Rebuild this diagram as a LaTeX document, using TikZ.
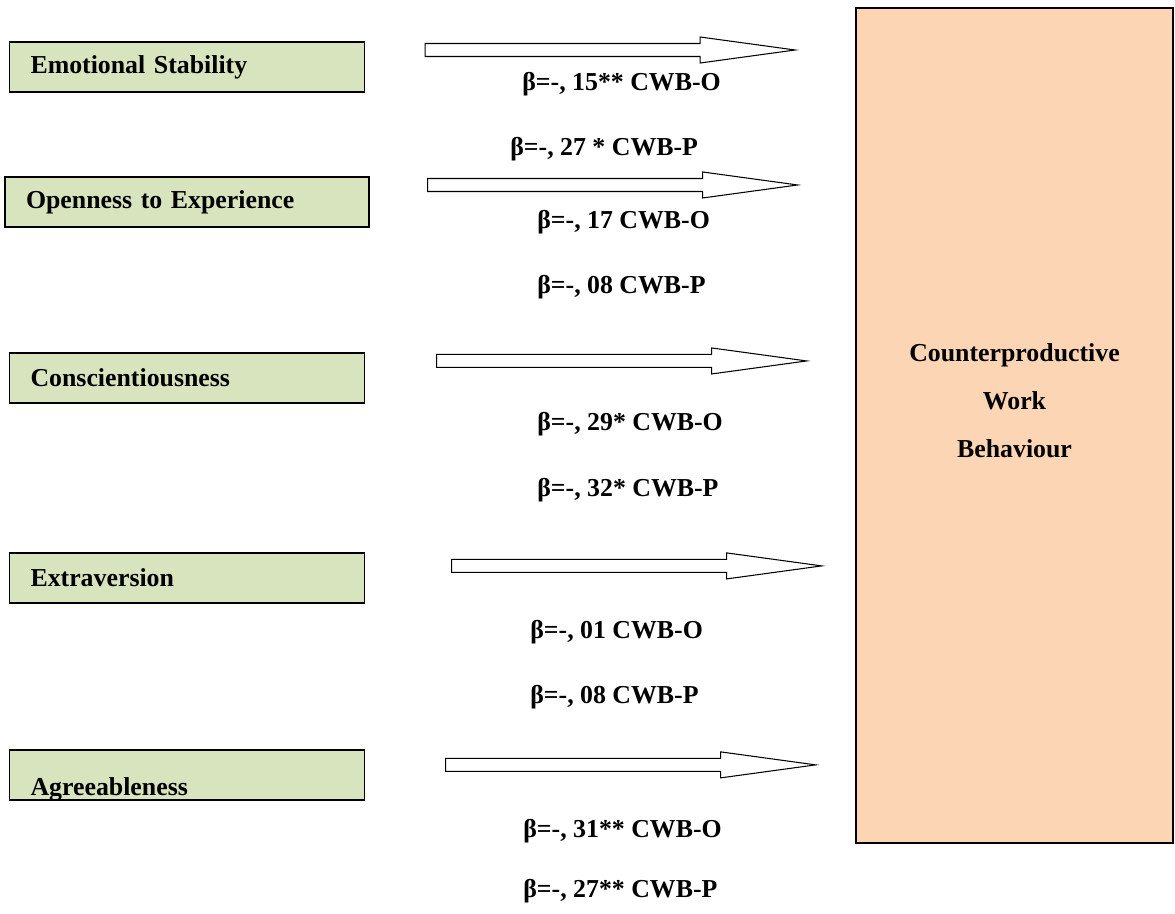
\documentclass[tikz,border=0pt]{standalone}
\usepackage{fontspec}
\setmainfont{Liberation Serif}
\usetikzlibrary{positioning}
\definecolor{traitgreen}{HTML}{D7E4BD}
\definecolor{cwbpeach}{HTML}{FCD5B4}

\begin{document}
\begin{tikzpicture}[x=0.02cm, y=-0.02cm,
    trait/.style = {rectangle, draw=black, line width=0.8pt, fill=traitgreen,
                    minimum height=1cm, text width=6.26cm, inner xsep=0.42cm,
                    inner ysep=0pt, align=left,
                    font=\fontsize{14.7}{17}\selectfont\bfseries},
    outcome/.style = {rectangle, draw=black, line width=1pt, fill=cwbpeach,
                      minimum width=6.34cm, minimum height=16.7cm},
    coef/.style = {anchor=west, inner sep=0pt,
                   font=\fontsize{14.7}{17}\selectfont\bfseries},
    fatarrow/.pic = {\draw[line width=0.6pt, fill=white]
        (0,-6.5) -- (275,-6.5) -- (275,-13) -- (370,0) -- (275,13)
        -- (275,6.5) -- (0,6.5) -- cycle;}]
  \useasboundingbox (0,0) rectangle (1175,913);

  % personality traits
  \node (es) [trait] at (187,67) {Emotional Stability};
  \node (oe) [trait, text width=6.44cm, below of=es, node distance=2.7cm] {Openness to Experience};
  \node (co) [trait, below of=oe, node distance=3.52cm] {Conscientiousness};
  \node (ex) [trait, below of=co, node distance=4cm] {Extraversion};
  \node (ag) [trait, text height=0.92cm, text depth=0.08cm,
              below of=ex, node distance=3.94cm] {Agreeableness};

  % outcome
  \node (cwb) [outcome] at (1014.5,425.5) {};
  \node (cwbtext) [align=center, font=\fontsize{14.7}{27.2}\selectfont\bfseries]
    at ([yshift=0.5cm]cwb.center) {Counterproductive\\Work\\Behaviour};

  % block arrows
  \path (es.east) ++(60,-17) pic {fatarrow};
  \path (oe.east) ++(58,-17) pic {fatarrow};
  \path (co.east) ++(71.5,-17) pic {fatarrow};
  \path (ex.east) ++(86.5,-12) pic {fatarrow};
  \path (ag.east) ++(80.5,-10) pic {fatarrow};

  % coefficients
  \node (es-o) [coef] at (522,84) {β=-, 15** CWB-O};
  \node (es-p) [coef] at (510,149) {β=-, 27 * CWB-P};
  \node (oe-o) [coef] at (537,222) {β=-, 17 CWB-O};
  \node (oe-p) [coef] at (537,287) {β=-, 08 CWB-P};
  \node (co-o) [coef] at (537,424) {β=-, 29* CWB-O};
  \node (co-p) [coef] at (537,490) {β=-, 32* CWB-P};
  \node (ex-o) [coef] at (530,632) {β=-, 01 CWB-O};
  \node (ex-p) [coef] at (530,697) {β=-, 08 CWB-P};
  \node (ag-o) [coef] at (523,831) {β=-, 31** CWB-O};
  \node (ag-p) [coef] at (523,891) {β=-, 27** CWB-P};
\end{tikzpicture}
\end{document}
